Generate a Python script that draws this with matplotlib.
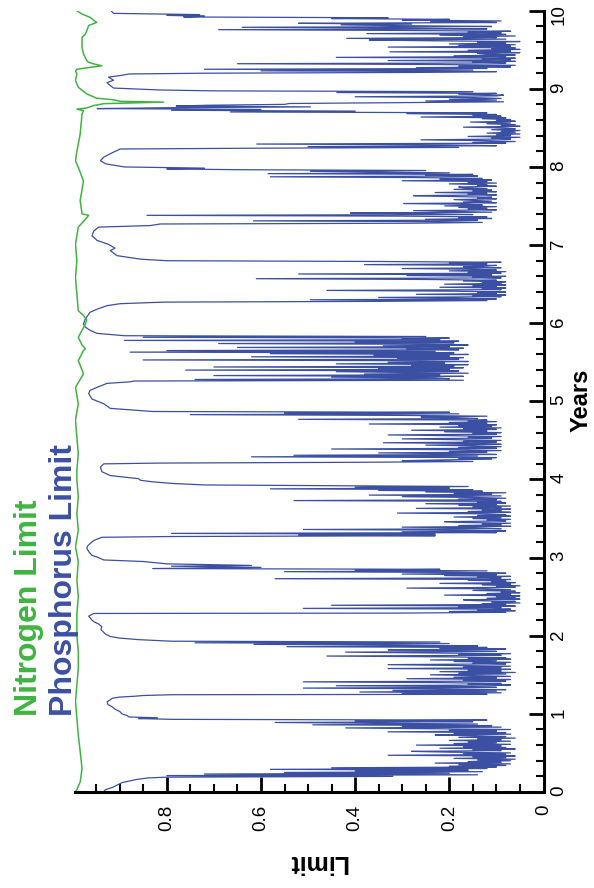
import numpy as np
import matplotlib
matplotlib.use('Agg')
import matplotlib.pyplot as plt
from matplotlib.ticker import MultipleLocator


BLUE = '#3b50a3'
GREEN = '#3fb43f'

# Phosphorus limit: smooth stretches as (year, limit) pairs
hump_0 = [(0.00, 0.935), (0.03, 0.93), (0.06, 0.915), (0.09, 0.905), (0.12, 0.895),
          (0.14, 0.88), (0.16, 0.865), (0.18, 0.84), (0.19, 0.80)]
hump_1 = [(0.93, 0.79), (0.94, 0.86), (0.95, 0.82), (0.96, 0.88), (0.98, 0.885), (1.00, 0.895),
          (1.03, 0.90), (1.06, 0.91), (1.09, 0.916), (1.12, 0.925), (1.155, 0.927), (1.18, 0.92),
          (1.20, 0.916), (1.215, 0.90), (1.225, 0.87), (1.235, 0.85), (1.245, 0.79)]
hump_2 = [(1.93, 0.79), (1.95, 0.86), (1.97, 0.90), (1.99, 0.92), (2.02, 0.93), (2.05, 0.935),
          (2.08, 0.94), (2.115, 0.938), (2.15, 0.945), (2.18, 0.955), (2.20, 0.959), (2.23, 0.963),
          (2.25, 0.966), (2.27, 0.96), (2.285, 0.955)]
hump_3 = [(2.875, 0.60), (2.89, 0.79), (2.90, 0.62), (2.92, 0.80), (2.95, 0.85), (2.97, 0.934),
          (3.00, 0.945), (3.03, 0.959), (3.07, 0.965), (3.12, 0.970), (3.15, 0.968), (3.18, 0.963),
          (3.22, 0.955), (3.26, 0.938), (3.27, 0.79)]
hump_4 = [(3.93, 0.72), (3.95, 0.79), (3.97, 0.83), (3.99, 0.856), (4.01, 0.86), (4.05, 0.92),
          (4.10, 0.938), (4.16, 0.941), (4.20, 0.934), (4.21, 0.814)]
hump_5 = [(4.91, 0.92), (4.97, 0.934), (5.03, 0.959), (5.10, 0.966), (5.14, 0.963), (5.18, 0.948),
          (5.23, 0.927), (5.25, 0.878), (5.26, 0.87)]
hump_6 = [(5.87, 0.948), (5.91, 0.963), (5.95, 0.973), (5.99, 0.977), (6.04, 0.974), (6.08, 0.97),
          (6.14, 0.963), (6.18, 0.948), (6.225, 0.927), (6.25, 0.899), (6.27, 0.807)]
hump_7 = [(6.82, 0.856), (6.865, 0.906), (6.93, 0.92), (6.96, 0.91), (7.01, 0.924), (7.06, 0.948),
          (7.12, 0.959), (7.18, 0.955), (7.23, 0.945), (7.25, 0.835), (7.27, 0.814)]
hump_8 = [(8.00, 0.89), (8.04, 0.93), (8.08, 0.941), (8.125, 0.934), (8.17, 0.92), (8.21, 0.906),
          (8.23, 0.899), (8.24, 0.61)]
hump_9 = [(9.01, 0.913), (9.04, 0.92), (9.08, 0.927), (9.11, 0.913), (9.15, 0.924), (9.17, 0.899),
          (9.19, 0.88), (9.20, 0.72)]
hump_10 = [(9.966, 0.913), (9.99, 0.917)]

# Phosphorus limit: noisy stretches, (first year, last year, limits read about every 0.01 yr)
noisy_0 = (0.20, 0.92, [0.32, 0.80, 0.14, 0.72, 0.20, 0.55, 0.13, 0.40, 0.16, 0.58, 0.12, 0.45, 0.10,
                        0.20, 0.08, 0.18, 0.07, 0.23, 0.09, 0.16, 0.07, 0.14, 0.06, 0.19, 0.08, 0.15,
                        0.06, 0.33, 0.08, 0.17, 0.07, 0.20, 0.28, 0.09, 0.15, 0.06, 0.22, 0.08, 0.17,
                        0.09, 0.27, 0.07, 0.19, 0.10, 0.16, 0.07, 0.20, 0.09, 0.14, 0.06, 0.18, 0.08,
                        0.15, 0.23, 0.07, 0.19, 0.08, 0.33, 0.10, 0.20, 0.07, 0.25, 0.42, 0.09, 0.30,
                        0.11, 0.49, 0.14, 0.35, 0.57, 0.15, 0.40, 0.12])
noisy_1 = (1.25, 1.92, [0.12, 0.30, 0.09, 0.39, 0.10, 0.32, 0.08, 0.20, 0.51, 0.10, 0.18, 0.44, 0.07,
                        0.16, 0.09, 0.22, 0.51, 0.08, 0.17, 0.07, 0.29, 0.10, 0.19, 0.07, 0.15, 0.24,
                        0.08, 0.18, 0.06, 0.22, 0.09, 0.16, 0.07, 0.33, 0.09, 0.17, 0.07, 0.20, 0.33,
                        0.08, 0.15, 0.07, 0.19, 0.10, 0.24, 0.07, 0.16, 0.08, 0.21, 0.46, 0.09, 0.18,
                        0.07, 0.25, 0.42, 0.10, 0.19, 0.33, 0.08, 0.22, 0.12, 0.545, 0.14, 0.30, 0.615,
                        0.20, 0.74, 0.22])
noisy_2 = (2.29, 2.86, [0.30, 0.08, 0.20, 0.06, 0.14, 0.07, 0.51, 0.09, 0.18, 0.06, 0.45, 0.08, 0.13,
                        0.05, 0.11, 0.06, 0.15, 0.17, 0.05, 0.12, 0.06, 0.10, 0.05, 0.21, 0.07, 0.12,
                        0.05, 0.09, 0.06, 0.15, 0.07, 0.12, 0.29, 0.06, 0.10, 0.05, 0.13, 0.07, 0.22,
                        0.06, 0.11, 0.08, 0.16, 0.07, 0.57, 0.09, 0.14, 0.07, 0.21, 0.10, 0.30, 0.08,
                        0.18, 0.55, 0.12, 0.40, 0.22, 0.83])
noisy_3 = (3.28, 3.91, [0.23, 0.52, 0.23, 0.79, 0.10, 0.30, 0.08, 0.17, 0.51, 0.09, 0.14, 0.30, 0.07,
                        0.18, 0.09, 0.13, 0.07, 0.17, 0.21, 0.08, 0.12, 0.07, 0.15, 0.09, 0.19, 0.07,
                        0.14, 0.08, 0.12, 0.31, 0.07, 0.16, 0.09, 0.13, 0.07, 0.27, 0.09, 0.15, 0.07,
                        0.18, 0.10, 0.25, 0.08, 0.14, 0.09, 0.53, 0.10, 0.18, 0.08, 0.15, 0.30, 0.09,
                        0.37, 0.11, 0.19, 0.08, 0.25, 0.13, 0.35, 0.15, 0.58, 0.20, 0.40, 0.16])
noisy_4 = (4.22, 4.87, [0.40, 0.15, 0.30, 0.22, 0.11, 0.18, 0.10, 0.62, 0.14, 0.53, 0.10, 0.19, 0.35,
                        0.12, 0.20, 0.09, 0.16, 0.45, 0.10, 0.18, 0.09, 0.15, 0.25, 0.09, 0.14, 0.34,
                        0.10, 0.17, 0.09, 0.20, 0.30, 0.11, 0.16, 0.09, 0.19, 0.33, 0.10, 0.15, 0.09,
                        0.21, 0.12, 0.28, 0.10, 0.17, 0.09, 0.22, 0.11, 0.18, 0.10, 0.37, 0.12, 0.20,
                        0.10, 0.16, 0.12, 0.52, 0.14, 0.19, 0.26, 0.12, 0.30, 0.75, 0.18, 0.55, 0.20,
                        0.83])
noisy_5 = (5.27, 5.84, [0.17, 0.74, 0.20, 0.23, 0.45, 0.17, 0.70, 0.22, 0.38, 0.16, 0.30, 0.44, 0.18,
                        0.76, 0.20, 0.35, 0.17, 0.70, 0.19, 0.28, 0.16, 0.44, 0.21, 0.33, 0.16, 0.26,
                        0.85, 0.18, 0.31, 0.17, 0.62, 0.20, 0.36, 0.16, 0.58, 0.19, 0.878, 0.23, 0.80,
                        0.18, 0.29, 0.17, 0.65, 0.20, 0.34, 0.16, 0.25, 0.69, 0.19, 0.40, 0.18, 0.89,
                        0.22, 0.30, 0.20, 0.85, 0.25, 0.89])
noisy_6 = (6.28, 6.80, [0.35, 0.12, 0.495, 0.10, 0.18, 0.35, 0.09, 0.15, 0.08, 0.27, 0.10, 0.14, 0.08,
                        0.19, 0.46, 0.09, 0.13, 0.08, 0.22, 0.10, 0.15, 0.08, 0.21, 0.09, 0.13, 0.08,
                        0.17, 0.10, 0.25, 0.61, 0.09, 0.15, 0.08, 0.29, 0.11, 0.52, 0.09, 0.16, 0.08,
                        0.20, 0.10, 0.14, 0.30, 0.09, 0.17, 0.13, 0.10, 0.38, 0.12, 0.20, 0.09, 0.35,
                        0.80])
noisy_7 = (7.28, 7.985, [0.28, 0.13, 0.22, 0.616, 0.14, 0.25, 0.11, 0.18, 0.12, 0.30, 0.842, 0.15,
                         0.24, 0.41, 0.11, 0.19, 0.276, 0.10, 0.16, 0.12, 0.18, 0.10, 0.21, 0.13, 0.16,
                         0.297, 0.10, 0.17, 0.11, 0.15, 0.19, 0.10, 0.14, 0.11, 0.20, 0.276, 0.10,
                         0.16, 0.12, 0.23, 0.10, 0.15, 0.11, 0.19, 0.12, 0.17, 0.18, 0.10, 0.14, 0.12,
                         0.20, 0.10, 0.16, 0.12, 0.30, 0.11, 0.22, 0.13, 0.27, 0.58, 0.14, 0.25, 0.15,
                         0.585, 0.20, 0.35, 0.495, 0.25, 0.65, 0.80, 0.72])
noisy_8 = (8.25, 8.985, [0.18, 0.50, 0.10, 0.20, 0.609, 0.08, 0.15, 0.06, 0.12, 0.26, 0.07, 0.11,
                         0.05, 0.16, 0.07, 0.10, 0.05, 0.12, 0.06, 0.09, 0.05, 0.11, 0.06, 0.08, 0.17,
                         0.05, 0.09, 0.06, 0.12, 0.07, 0.155, 0.06, 0.10, 0.07, 0.13, 0.08, 0.26, 0.09,
                         0.15, 0.10, 0.29, 0.12, 0.665, 0.40, 0.79, 0.60, 0.948, 0.80, 0.495, 0.78,
                         0.708, 0.55, 0.54, 0.30, 0.085, 0.25, 0.10, 0.20, 0.09, 0.15, 0.40, 0.10,
                         0.085, 0.18, 0.10, 0.439, 0.15, 0.70, 0.814])
noisy_9 = (9.21, 9.95, [0.27, 0.10, 0.60, 0.15, 0.72, 0.12, 0.27, 0.07, 0.18, 0.06, 0.22, 0.65, 0.08,
                        0.15, 0.06, 0.33, 0.07, 0.13, 0.06, 0.44, 0.08, 0.19, 0.06, 0.12, 0.14, 0.05,
                        0.326, 0.07, 0.16, 0.05, 0.11, 0.06, 0.33, 0.07, 0.18, 0.06, 0.20, 0.08, 0.14,
                        0.05, 0.25, 0.37, 0.08, 0.418, 0.10, 0.17, 0.06, 0.22, 0.08, 0.375, 0.09, 0.16,
                        0.07, 0.30, 0.69, 0.12, 0.29, 0.64, 0.11, 0.30, 0.43, 0.28, 0.52, 0.10, 0.24,
                        0.09, 0.30, 0.20, 0.45, 0.33, 0.764, 0.72, 0.80, 0.73])

HUMPS = [hump_0, hump_1, hump_2, hump_3, hump_4, hump_5, hump_6, hump_7, hump_8, hump_9, hump_10]
NOISY = [noisy_0, noisy_1, noisy_2, noisy_3, noisy_4, noisy_5, noisy_6, noisy_7, noisy_8, noisy_9]

# Nitrogen limit (year, limit)
nitrogen = [(0.00, 0.994), (0.03, 0.991), (0.13, 0.984), (0.30, 0.98), (0.52, 0.984), (0.73, 0.988),
            (0.94, 0.991), (1.155, 0.994), (1.37, 0.991), (1.58, 0.988), (1.80, 0.988), (2.0, 0.991),
            (2.28, 0.991), (2.50, 0.988), (2.71, 0.991), (2.95, 0.988), (3.14, 0.994), (3.35, 0.988),
            (3.56, 0.991), (3.78, 0.988), (3.99, 0.991), (4.12, 0.991), (4.33, 0.988), (4.54, 0.991),
            (4.76, 0.994), (4.97, 0.988), (5.18, 0.994), (5.35, 0.977), (5.40, 0.98), (5.52, 0.988),
            (5.65, 0.977), (5.67, 0.973), (5.72, 0.98), (5.82, 0.988), (5.99, 0.973), (6.04, 0.97),
            (6.10, 0.977), (6.16, 0.988), (6.375, 0.991), (6.59, 0.994), (6.80, 0.991), (7.01, 0.994),
            (7.23, 0.988), (7.33, 0.973), (7.38, 0.966), (7.40, 0.98), (7.57, 0.984), (7.82, 0.977),
            (7.995, 0.988), (8.08, 0.994), (8.20, 0.991), (8.42, 0.984), (8.68, 0.98), (8.72, 0.977),
            (8.74, 0.991), (8.755, 0.97), (8.785, 0.956), (8.81, 0.934), (8.83, 0.807), (8.84, 0.899),
            (8.86, 0.913), (8.88, 0.949), (8.935, 0.97), (9.02, 0.988), (9.105, 0.994), (9.19, 0.991),
            (9.23, 0.994), (9.25, 0.991), (9.275, 0.963), (9.295, 0.938), (9.32, 0.956), (9.34, 0.966),
            (9.36, 0.97), (9.45, 0.977), (9.53, 0.98), (9.66, 0.98), (9.70, 0.973), (9.745, 0.97),
            (9.81, 0.966), (9.85, 0.949), (9.88, 0.956), (9.915, 0.963), (9.957, 0.98), (10.0, 0.991)]

limit_ticks = [0, 0.2, 0.4, 0.6, 0.8]
limit_tick_labels = ['0', '0.2', '0.4', '0.6', '0.8']


def build_phosphorus():
    years, limits = [], []
    for i, hump in enumerate(HUMPS):
        years += [p[0] for p in hump]
        limits += [p[1] for p in hump]
        if i < len(NOISY):
            start, end, vals = NOISY[i]
            years += list(np.linspace(start, end, len(vals)))
            limits += vals
    return years, limits


def main():
    plt.rcParams['font.family'] = ['Liberation Sans', 'DejaVu Sans']

    fig = plt.figure(figsize=(5.94, 8.88), dpi=100)
    ax = fig.add_axes([75 / 594, 96 / 888, 468.5 / 594, 781.3 / 888])

    p_years, p_limits = build_phosphorus()
    ax.plot(p_limits, p_years, color=BLUE, lw=0.9)
    ax.plot([p[1] for p in nitrogen], [p[0] for p in nitrogen], color=GREEN, lw=1.1)

    ax.set_xlim(0.995, 0)
    ax.set_ylim(0, 10)

    for side in ['left', 'top']:
        ax.spines[side].set_visible(False)
    for side in ['bottom', 'right']:
        ax.spines[side].set_linewidth(2.2)

    ax.yaxis.tick_right()
    ax.set_xticks(limit_ticks)
    ax.set_xticklabels(limit_tick_labels)
    ax.set_yticks(range(11))
    ax.xaxis.set_minor_locator(MultipleLocator(0.05))
    ax.yaxis.set_minor_locator(MultipleLocator(0.2))

    ax.tick_params(which='major', direction='in', length=10.5, width=2, labelsize=13.5)
    ax.tick_params(which='minor', direction='in', length=5.5, width=1.5)
    ax.tick_params(axis='x', labelrotation=90, pad=9)
    ax.tick_params(axis='y', labelrotation=90, pad=5, left=False, right=True,
                   labelleft=False, labelright=True)
    ax.tick_params(axis='y', which='minor', left=False, right=True)

    fig.text(581.5 / 594, 1 - 400 / 888, 'Years', rotation=90, ha='center', va='center',
             fontsize=17, fontweight='bold')
    fig.text(318 / 594, 1 - 862 / 888, 'Limit', rotation=180, ha='center', va='center',
             fontsize=18, fontweight='bold')

    fig.text(37 / 594, 1 - 716 / 888, 'Nitrogen Limit', rotation=90, rotation_mode='anchor',
             ha='left', va='baseline', color=GREEN, fontsize=23, fontweight='bold')
    fig.text(72 / 594, 1 - 716 / 888, 'Phosphorus Limit', rotation=90, rotation_mode='anchor',
             ha='left', va='baseline', color=BLUE, fontsize=23, fontweight='bold')

    fig.savefig('out.png', dpi=100)


if __name__ == '__main__':
    main()
